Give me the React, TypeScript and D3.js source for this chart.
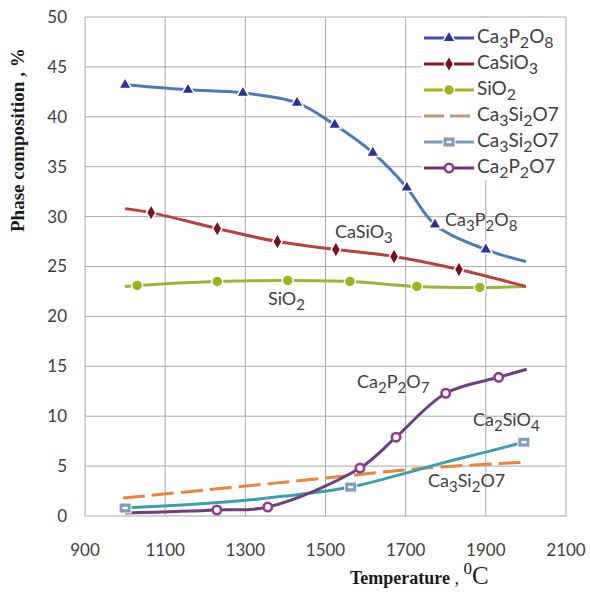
import React from 'react';
import * as d3 from 'd3';

// ---------- data ----------
const xTicks = [900, 1100, 1300, 1500, 1700, 1900, 2100];
const yTicks = [0, 5, 10, 15, 20, 25, 30, 35, 40, 45, 50];

// Ca3P2O8
const ca3p2o8T = [1000, 1157, 1294, 1429, 1523, 1618, 1703, 1773, 1900, 2000];
const ca3p2o8V = [43.2, 42.7, 42.4, 41.4, 39.2, 36.4, 32.9, 29.2, 26.7, 25.5];
const ca3p2o8MarkT = [1000, 1157, 1294, 1429, 1523, 1618, 1703, 1773, 1900];
const ca3p2o8MarkV = [43.2, 42.7, 42.4, 41.4, 39.2, 36.4, 32.9, 29.2, 26.7];

// CaSiO3
const casio3T = [1000, 1065, 1230, 1380, 1526, 1671, 1833, 2000];
const casio3V = [30.8, 30.4, 28.8, 27.5, 26.7, 26.0, 24.7, 23.0];
const casio3MarkT = [1065, 1230, 1380, 1526, 1671, 1833];
const casio3MarkV = [30.4, 28.8, 27.5, 26.7, 26.0, 24.7];

// SiO2
const sio2T = [1000, 1030, 1230, 1406, 1561, 1728, 1885, 2000];
const sio2V = [23.0, 23.1, 23.5, 23.6, 23.5, 23.0, 22.9, 23.0];
const sio2MarkT = [1030, 1230, 1406, 1561, 1728, 1885];
const sio2MarkV = [23.1, 23.5, 23.6, 23.5, 23.0, 22.9];

// Ca3Si2O7 (dashed)
const ca3si2o7T = [995, 1250, 1500, 1750, 2002];
const ca3si2o7V = [1.8, 2.8, 3.8, 4.8, 5.4];

// Ca2SiO4
const ca2sio4T = [1000, 1250, 1400, 1563, 1700, 1800, 1900, 1995];
const ca2sio4V = [0.8, 1.4, 2.0, 2.9, 4.3, 5.4, 6.4, 7.4];
const ca2sio4MarkT = [1000, 1563, 1995];
const ca2sio4MarkV = [0.8, 2.9, 7.4];

// Ca2P2O7
const ca2p2o7T = [1000, 1229, 1356, 1586, 1676, 1800, 1932, 2002];
const ca2p2o7V = [0.3, 0.6, 0.9, 4.8, 7.9, 12.3, 13.9, 14.7];
const ca2p2o7MarkT = [1229, 1356, 1586, 1676, 1800, 1932];
const ca2p2o7MarkV = [0.6, 0.9, 4.8, 7.9, 12.3, 13.9];

const legendLabels = ['Ca_3P_2O_8', 'CaSiO_3', 'SiO_2', 'Ca_3Si_2O7', 'Ca_3Si_2O7', 'Ca_2P_2O7'];

// ---------- helpers ----------
const W = 590, H = 594;
const x = d3.scaleLinear().domain([900, 2100]).range([85, 566]);
const y = d3.scaleLinear().domain([0, 50]).range([516, 17]);

const lineGen = d3
  .line<[number, number]>()
  .x((d) => x(d[0]))
  .y((d) => y(d[1]))
  .curve(d3.curveCatmullRom.alpha(0.5));

const zip = (a: number[], b: number[]) => a.map((v, i) => [v, b[i]] as [number, number]);

function Formula({ text, size, subSize, fill = '#404040', ...rest }: any) {
  // "_" marks the next digit as subscript
  const parts: { t: string; sub: boolean }[] = [];
  let i = 0;
  while (i < text.length) {
    if (text[i] === '_') {
      parts.push({ t: text[i + 1], sub: true });
      i += 2;
    } else {
      let j = i;
      let s = '';
      while (j < text.length && text[j] !== '_') {
        s += text[j];
        j++;
      }
      parts.push({ t: s, sub: false });
      i = j;
    }
  }
  const off = size * 0.28;
  let cur = 0;
  return (
    <text fontFamily="Lato, 'Open Sans', sans-serif" fontSize={size} fill={fill} {...rest}>
      {parts.map((p, k) => {
        const target = p.sub ? off : 0;
        const dy = target - cur;
        cur = target;
        return (
          <tspan key={k} dy={dy} fontSize={p.sub ? subSize : size}>
            {p.t}
          </tspan>
        );
      })}
    </text>
  );
}

const tri = d3.symbol().type(d3.symbolTriangle).size(70)()!;
const dia = d3.symbol().type(d3.symbolDiamond).size(75)()!;

function Marker({ kind, cx, cy }: { kind: string; cx: number; cy: number }) {
  const t = `translate(${cx},${cy})`;
  if (kind === 'tri')
    return <path d={tri} transform={t} fill="#2E3192" stroke="#ffffff" strokeWidth={1.5} />;
  if (kind === 'dia')
    return <path d={dia} transform={t} fill="#7A0F1F" stroke="#ffffff" strokeWidth={1.5} />;
  if (kind === 'dot')
    return <circle cx={cx} cy={cy} r={5.5} fill="#9DB41B" stroke="#ffffff" strokeWidth={1.5} />;
  if (kind === 'sq')
    return (
      <g transform={t}>
        <rect x={-6} y={-5} width={12} height={10} fill="#7F9BB8" stroke="#ffffff" strokeWidth={1} />
        <rect x={-2.5} y={-1.2} width={5} height={2.4} fill="#ffffff" />
      </g>
    );
  // ring
  return <circle cx={cx} cy={cy} r={4.2} fill="#ffffff" stroke="#8E3A8E" strokeWidth={2.6} />;
}

type Series = {
  t: number[];
  v: number[];
  mt: number[];
  mv: number[];
  color: string;
  legendColor: string;
  marker: string;
  dash?: string;
};

const series: Series[] = [
  { t: ca3p2o8T, v: ca3p2o8V, mt: ca3p2o8MarkT, mv: ca3p2o8MarkV, color: '#4A7BB7', legendColor: '#3B4BB0', marker: 'tri' },
  { t: casio3T, v: casio3V, mt: casio3MarkT, mv: casio3MarkV, color: '#B8403F', legendColor: '#8B1A22', marker: 'dia' },
  { t: sio2T, v: sio2V, mt: sio2MarkT, mv: sio2MarkV, color: '#9BB53C', legendColor: '#A5B21A', marker: 'dot' },
  { t: ca3si2o7T, v: ca3si2o7V, mt: [], mv: [], color: '#E9853A', legendColor: '#B99A7A', marker: 'none', dash: '22 7' },
  { t: ca2sio4T, v: ca2sio4V, mt: ca2sio4MarkT, mv: ca2sio4MarkV, color: '#3AA0AE', legendColor: '#7F9BB8', marker: 'sq' },
  { t: ca2p2o7T, v: ca2p2o7V, mt: ca2p2o7MarkT, mv: ca2p2o7MarkV, color: '#6E3F7E', legendColor: '#7A2E7A', marker: 'ring' },
];

const drawOrder = [3, 4, 5, 2, 1, 0];

export default function App() {
  const gridColor = '#A8A8A8';
  const legendRows = [38, 64, 90, 116, 142, 168];
  return (
    <div style={{ position: 'absolute', left: 0, top: 0 }}>
      <svg width={W} height={H} style={{ display: 'block', background: '#ffffff' }}>
        {/* grid */}
        {yTicks.map((v) => (
          <line key={'gy' + v} x1={x(900)} x2={x(2100)} y1={y(v)} y2={y(v)} stroke={gridColor} strokeWidth={1} />
        ))}
        {xTicks.map((v) => (
          <line key={'gx' + v} x1={x(v)} x2={x(v)} y1={y(0)} y2={y(50)} stroke={gridColor} strokeWidth={1} />
        ))}

        {/* tick labels */}
        {yTicks.map((v) => (
          <text key={'ty' + v} x={67} y={y(v)} dy="0.35em" textAnchor="end" fontFamily="Lato, sans-serif" fontSize={17} fill="#404040">
            {v}
          </text>
        ))}
        {xTicks.map((v) => (
          <text key={'tx' + v} x={x(v)} y={550} dy="0.35em" textAnchor="middle" fontFamily="Lato, sans-serif" fontSize={17} fill="#404040">
            {v}
          </text>
        ))}

        {/* axis titles */}
        <text
          transform="translate(24,232) rotate(-90)"
          fontFamily="'Liberation Serif', 'Times New Roman', serif"
          fontWeight="bold"
          fontSize={19}
          fill="#1a1a1a"
        >
          Phase composition , %
        </text>
        <text x={350} y={584} fontFamily="'Liberation Serif', 'Times New Roman', serif" fill="#1a1a1a">
          <tspan fontWeight="bold" fontSize={18}>Temperature</tspan>
          <tspan fontSize={18}> , </tspan>
          <tspan fontSize={17} dy={-10}>0</tspan>
          <tspan fontSize={25} dy={10}>C</tspan>
        </text>

        {/* lines */}
        {drawOrder.map((i) => {
          const s = series[i];
          return (
            <path
              key={'l' + i}
              d={lineGen(zip(s.t, s.v)) || ''}
              fill="none"
              stroke={s.color}
              strokeWidth={3}
              strokeDasharray={s.dash}
              strokeLinecap="butt"
            />
          );
        })}
        {drawOrder.map((i) => {
          const s = series[i];
          return s.mt.map((t, k) => <Marker key={'m' + i + '-' + k} kind={s.marker} cx={x(t)} cy={y(s.mv[k])} />);
        })}

        {/* in-plot labels */}
        <Formula text="Ca_3P_2O_8" size={18} subSize={15} x={445} y={226} />
        <Formula text="CaSiO_3" size={18} subSize={15} x={335} y={238} />
        <Formula text="SiO_2" size={18} subSize={15} x={268} y={305} />
        <Formula text="Ca_2P_2O_7" size={18} subSize={15} x={357} y={388} />
        <Formula text="Ca_2SiO_4" size={18} subSize={15} x={473} y={426} />
        <Formula text="Ca_3Si_2O7" size={18} subSize={15} x={428} y={487} />

        {/* legend */}
        <rect x={422} y={18} width={143} height={162} fill="#ffffff" />
        {series.map((s, i) => {
          const ly = legendRows[i];
          return (
            <g key={'lg' + i}>
              <line x1={424} x2={474} y1={ly} y2={ly} stroke={s.legendColor} strokeWidth={3} strokeDasharray={s.dash ? '20 6' : undefined} />
              {s.marker !== 'none' && <Marker kind={s.marker} cx={449} cy={ly} />}
              <Formula text={legendLabels[i]} size={19} subSize={16} x={477} y={ly + 5} />
            </g>
          );
        })}
      </svg>
    </div>
  );
}
